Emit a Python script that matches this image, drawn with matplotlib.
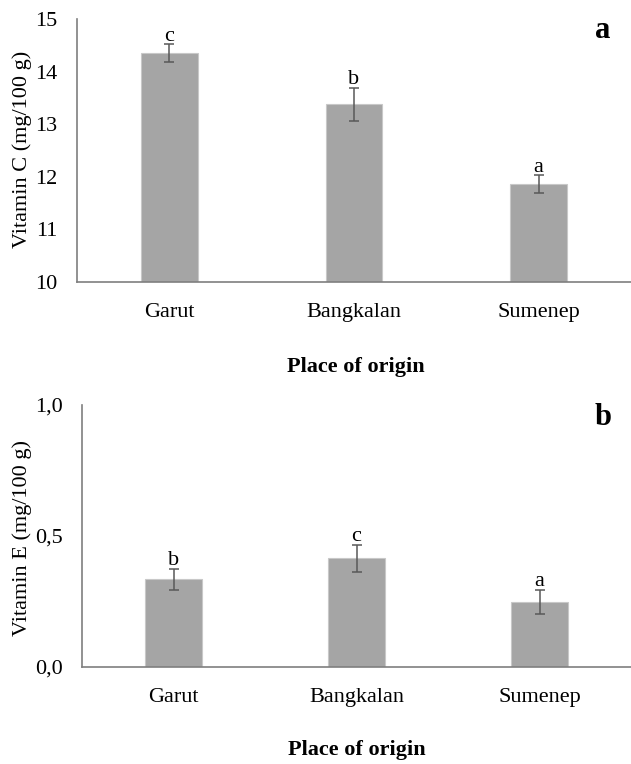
import matplotlib.pyplot as plt
from matplotlib.ticker import FixedLocator, FixedFormatter

places = ['Garut', 'Bangkalan', 'Sumenep']

vit_c = [14.35, 13.38, 11.86]
vit_c_err = [0.17, 0.31, 0.17]
vit_c_letters = ['c', 'b', 'a']

vit_e = [0.334, 0.414, 0.248]
vit_e_err = [0.040, 0.052, 0.046]
vit_e_letters = ['b', 'c', 'a']

plt.rcParams['font.family'] = ['Liberation Serif', 'DejaVu Serif']

fig = plt.figure(figsize=(6.31, 7.64), dpi=100)

bar_color = '#a5a5a5'
err_color = '#595959'
spine_color = '#7f7f7f'


def draw_panel(ax, values, errs, letters, ylim, yticks, ytick_labels, ylabel, tag, tag_y):
    x = list(range(len(places)))
    ax.bar(x, values, width=0.307, color=bar_color, edgecolor='#c8c8c8', linewidth=0.8, zorder=2)
    ax.errorbar(x, values, yerr=errs, fmt='none', ecolor=err_color,
                elinewidth=1.1, capsize=3.5, capthick=1.1, zorder=3)
    for xi, v, e, lab in zip(x, values, errs, letters):
        ax.annotate(lab, (xi, v + e), xytext=(0, -1), textcoords='offset points',
                    ha='center', va='bottom', fontsize=16)
    ax.set_xlim(-0.5, 2.5)
    ax.set_ylim(*ylim)
    ax.yaxis.set_major_locator(FixedLocator(yticks))
    ax.yaxis.set_major_formatter(FixedFormatter(ytick_labels))
    ax.set_xticks(x)
    ax.set_xticklabels(places, fontsize=16)
    ax.tick_params(axis='both', length=0, labelsize=16)
    ax.tick_params(axis='y', pad=14)
    ax.tick_params(axis='x', pad=15)
    for s in ['top', 'right']:
        ax.spines[s].set_visible(False)
    for s in ['left', 'bottom']:
        ax.spines[s].set_color(spine_color)
        ax.spines[s].set_linewidth(1.2)
    ax.set_ylabel(ylabel, fontsize=16)
    ax.set_xlabel('Place of origin', fontsize=16, fontweight='bold')
    ax.text(0.949, tag_y, tag, transform=ax.transAxes, fontsize=22,
            fontweight='bold', ha='center', va='center')


ax1 = fig.add_axes([0.122, 0.6309, 0.878, 0.3442])
draw_panel(ax1, vit_c, vit_c_err, vit_c_letters, (10, 15),
           [10, 11, 12, 13, 14, 15], ['10', '11', '12', '13', '14', '15'],
           'Vitamin C (mg/100 g)', 'a', 0.955)
ax1.yaxis.set_label_coords(-0.081, 0.505)
ax1.xaxis.set_label_coords(0.504, -0.285)

ax2 = fig.add_axes([0.13, 0.127, 0.87, 0.343])
draw_panel(ax2, vit_e, vit_e_err, vit_e_letters, (0, 1.0),
           [0, 0.5, 1.0], ['0,0', '0,5', '1,0'],
           'Vitamin E (mg/100 g)', 'b', 0.952)
ax2.yaxis.set_label_coords(-0.091, 0.492)
ax2.xaxis.set_label_coords(0.5, -0.28)

fig.savefig('out.png', dpi=100)
